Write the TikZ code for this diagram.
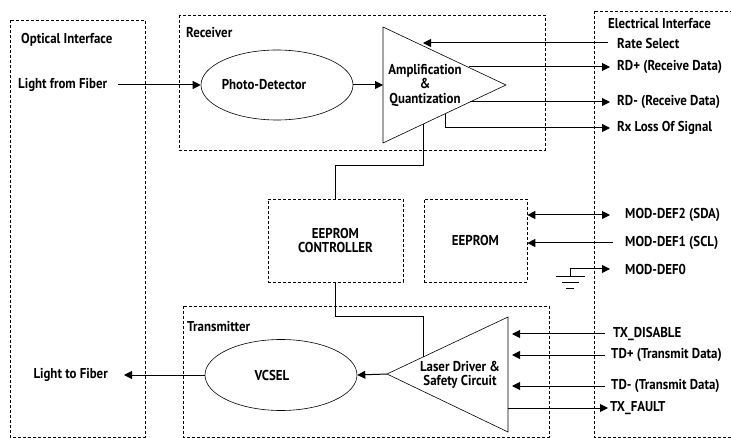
\documentclass[tikz,border=0pt]{standalone}
\usepackage{fontspec}
\setmainfont{PT Sans}[BoldFont={PT Sans Bold},FakeStretch=0.9]
\usetikzlibrary{arrows.meta,shapes.geometric}
\newcommand{\lab}{\fontsize{14.3}{14.5}\selectfont\bfseries}
\tikzset{
  zone/.style={draw,line width=0.7pt,dash pattern=on 3pt off 2pt},
  blob/.style={draw,ellipse,line width=0.6pt,inner sep=0},
  tag/.style={anchor=west,inner sep=0,font=\lab},
  wire/.style={line width=1pt},
  sig/.style={wire,-{Triangle[length=8pt,width=8pt]}},
}
\begin{document}
\begin{tikzpicture}[x=1pt,y=-1pt,font=\lab]
\useasboundingbox (0,0) rectangle (731,438);
% zones
\draw[zone] (10,20) rectangle (145,437);
\node[tag] (optical) at (21,40) {Optical Interface};
\draw[zone] (179,15) rectangle (545,150);
\node[tag] (receiver) at (186,33) {Receiver};
\draw[zone] (594,11) rectangle (760,437);
\node[tag] (electrical) at (608,24) {Electrical Interface};
\draw[zone] (183,306) rectangle (549,437);
\node[tag] (transmitter) at (187,327) {Transmitter};
% receiver
\node[blob,minimum width=152pt,minimum height=70pt] (pd) at (277,85) {};
\node[inner sep=0] (pdtext) at (264,85) {Photo-Detector};
\draw[line width=0.6pt] (383,27) coordinate (amp-t) -- (383,143) coordinate (amp-b) -- (506,85) coordinate (amp-o) -- cycle;
\node[inner sep=0,align=center] (amptext) at (425,85) {Amplification\\\&\\Quantization};
\coordinate (amp-in) at (383,85);
\coordinate (amp-rate) at (423,43);
\coordinate (amp-los) at (445,113.8);
\coordinate (amp-ctl) at (423,124);
% transmitter
\node[blob,minimum width=152pt,minimum height=71pt] (vcsel) at (281,375) {};
\node[inner sep=0] (vcseltext) at (272,375) {VCSEL};
\draw[line width=0.6pt] (387,374) coordinate (ld-a) -- (508,317) coordinate (ld-t) -- (508,432) coordinate (ld-b) -- cycle;
\node[inner sep=0,align=center] (ldtext) at (460,375) {Laser Driver \&\\Safety Circuit};
\coordinate (ld-ctl) at (423,357);
% eeprom
\node[zone,minimum width=135pt,minimum height=83pt,align=center] (ctrl) at (335.5,240.5) {EEPROM\\CONTROLLER};
\node[zone,minimum width=103pt,minimum height=83pt] (eeprom) at (475.5,240.5) {EEPROM};
% optical side
\node[tag] (lff) at (18,85) {Light from Fiber};
\node[tag,anchor=east] (ltf) at (108,375) {Light to Fiber};
\draw[sig] ([xshift=11pt]lff.east) -- (pd.west);
\draw[sig] (vcsel.west) -- ([xshift=16pt]ltf.east);
\draw[sig] (pd.east) -- (amp-in);
\draw[sig] (ld-a) -- (vcsel.east);
% electrical side
\node[tag] (rate) at (617,43) {Rate Select};
\node[tag] (rdp) at (617,67) {RD+ (Receive Data)};
\node[tag] (rdm) at (617,102) {RD- (Receive Data)};
\node[tag] (rxlos) at (617,128) {Rx Loss Of Signal};
\node[tag] (sda) at (625,215) {MOD-DEF2 (SDA)};
\node[tag] (scl) at (625,243) {MOD-DEF1 (SCL)};
\node[tag] (def0) at (625,269) {MOD-DEF0};
\node[tag] (txdis) at (613,334) {TX\_DISABLE};
\node[tag] (tdp) at (611,355) {TD+ (Transmit Data)};
\node[tag] (tdm) at (611,386) {TD- (Transmit Data)};
\node[tag] (txfault) at (610,408) {TX\_FAULT};
\draw[sig] ([xshift=-9pt]rate.west) -- (amp-rate);
\draw[sig] (469,67) -- ([xshift=-7pt]rdp.west);
\draw[sig] (470,102) -- ([xshift=-7pt]rdm.west);
\draw[sig] (amp-los) |- ([xshift=-7pt]rxlos.west);
\draw[wire] (amp-ctl) -- ++(0,42) -| (ctrl.north);
\draw[wire] (ctrl.south) -- ++(0,34) -| (ld-ctl);
\draw[wire,{Triangle[length=8pt,width=8pt]}-{Triangle[length=8pt,width=8pt]}] (eeprom.east |- sda.west) -- ([xshift=-15pt]sda.west);
\draw[sig] ([xshift=-12pt]scl.west) -- (eeprom.east |- scl.west);
% ground
\coordinate (gnd) at (570,277);
\draw[sig] (gnd) -- (gnd |- def0.west) -- ([xshift=-15pt]def0.west);
\draw[wire] (556,277) -- (585,277);
\draw[wire] (562,283) -- (579,283);
\draw[wire] (566,289) -- (574,289);
\draw[sig] ([xshift=-8pt]txdis.west) -- ([xshift=4pt]txdis.west -| ld-t);
\draw[sig] ([xshift=-6pt]tdp.west) -- ([xshift=4pt]tdp.west -| ld-t);
\draw[sig] ([xshift=-6pt]tdm.west) -- ([xshift=4pt]tdm.west -| ld-t);
\draw[sig] (txfault.west -| ld-t) -- ([xshift=-2pt]txfault.west);
\end{tikzpicture}
\end{document}
